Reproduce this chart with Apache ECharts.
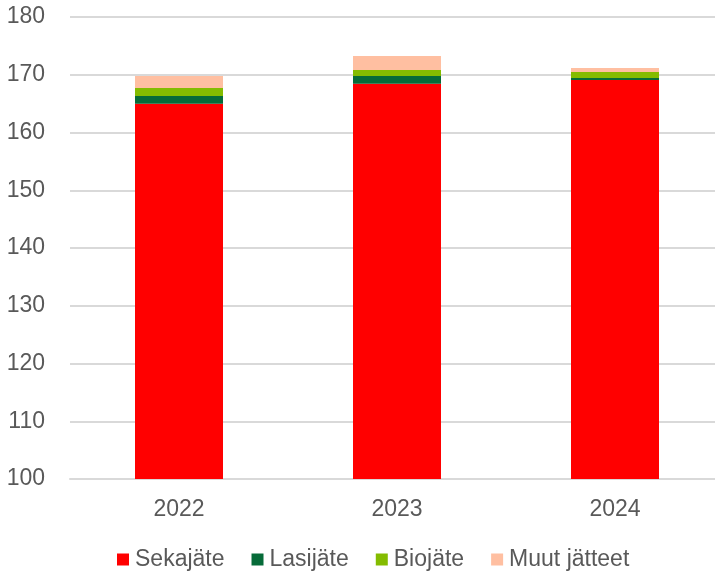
<!DOCTYPE html>
<html>
<head>
<meta charset="utf-8">
<script src="https://cdn.jsdelivr.net/npm/echarts@6/dist/echarts.min.js"></script>
<style>
html,body{margin:0;padding:0;background:#fff;overflow:hidden;width:715px;height:572px;}
#c{width:724px;height:572px;}
</style>
</head>
<body>
<div id="c"></div>
<script>
const categories = ['2022', '2023', '2024'];
const sekajate = [165.0, 168.45, 169.1];
const lasijate = [1.3, 1.33, 0.35];
const biojate = [1.4, 1.04, 1.04];
const muutJatteet = [2.1, 2.43, 0.69];
const seriesNames = ['Sekajäte', 'Lasijäte', 'Biojäte', 'Muut jätteet'];
const seriesColors = ['#ff0000', '#066b39', '#84bc00', '#ffbfa1'];
const yMin = 100, yMax = 180, yStep = 10;

const font = '"Liberation Sans", Arial, sans-serif';
const chart = echarts.init(document.getElementById('c'), null, {renderer: 'canvas'});
const data = [sekajate, lasijate, biojate, muutJatteet];
chart.setOption({
  animation: false,
  backgroundColor: '#ffffff',
  textStyle: {fontFamily: font},
  grid: {left: 70, top: 17, right: 0, bottom: 93, containLabel: false},
  legend: {
    left: 117, top: 548, padding: 0,
    itemWidth: 12, itemHeight: 12, itemGap: 27,
    icon: 'rect',
    textStyle: {fontFamily: font, fontSize: 23, color: '#595959', padding: [0, 0, 0, 1]},
    data: seriesNames
  },
  xAxis: {
    type: 'category',
    data: categories,
    axisLine: {lineStyle: {color: '#d9d9d9', width: 2}},
    axisTick: {show: false},
    axisLabel: {fontFamily: font, fontSize: 23, color: '#595959', margin: 19}
  },
  yAxis: {
    type: 'value',
    min: yMin, max: yMax, interval: yStep,
    axisLine: {show: false},
    axisTick: {show: false},
    splitLine: {lineStyle: {color: '#d9d9d9', width: 2}},
    axisLabel: {fontFamily: font, fontSize: 23, color: '#595959', margin: 25}
  },
  series: seriesNames.map((n, i) => ({
    name: n,
    type: 'bar',
    stack: 'total',
    barWidth: 88,
    itemStyle: {color: seriesColors[i]},
    data: data[i]
  }))
});
</script>
</body>
</html>
